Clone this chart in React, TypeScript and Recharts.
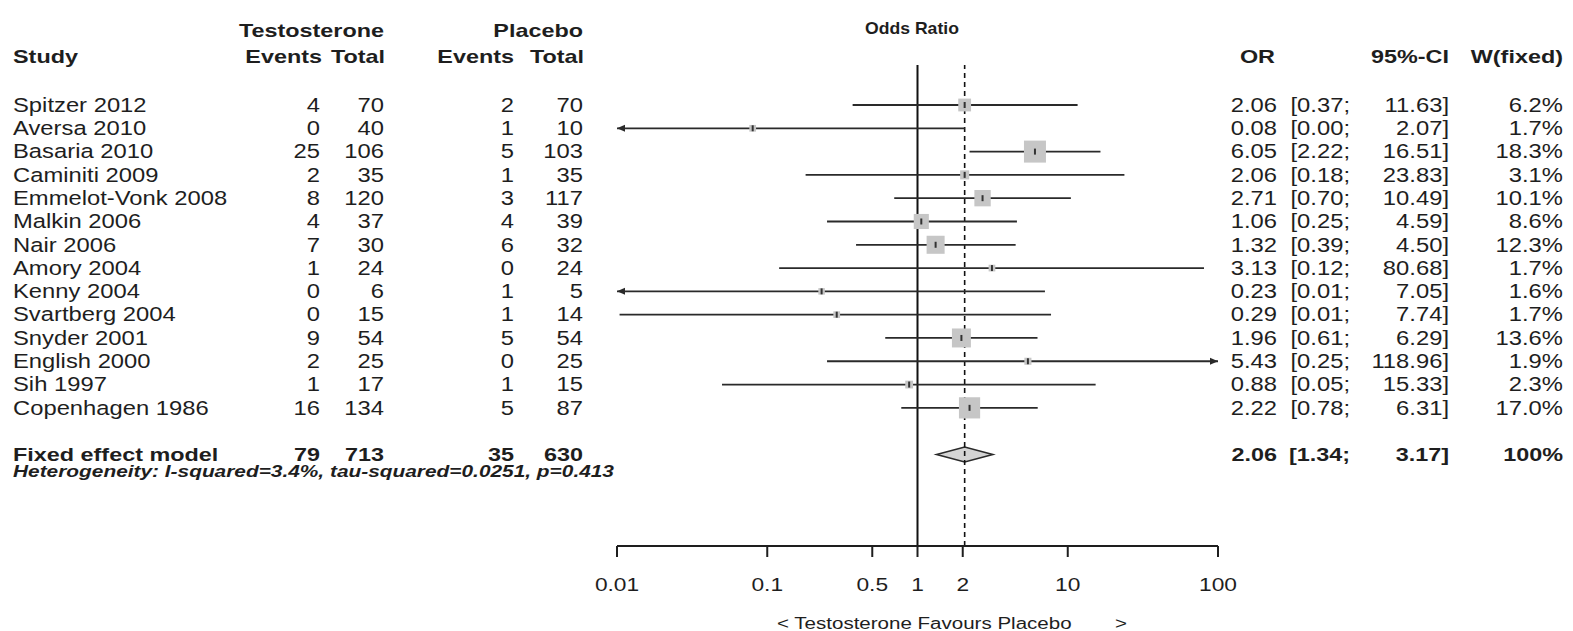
import React from "react";
import {
  ComposedChart,
  ReferenceArea,
  ReferenceLine,
  Scatter,
  XAxis,
  YAxis,
} from "recharts";

const studies = [
  "Spitzer 2012",
  "Aversa 2010",
  "Basaria 2010",
  "Caminiti 2009",
  "Emmelot-Vonk 2008",
  "Malkin 2006",
  "Nair 2006",
  "Amory 2004",
  "Kenny 2004",
  "Svartberg 2004",
  "Snyder 2001",
  "English 2000",
  "Sih 1997",
  "Copenhagen 1986",
];
const tEvents = [4, 0, 25, 2, 8, 4, 7, 1, 0, 0, 9, 2, 1, 16];
const tTotal = [70, 40, 106, 35, 120, 37, 30, 24, 6, 15, 54, 25, 17, 134];
const pEvents = [2, 1, 5, 1, 3, 4, 6, 0, 1, 1, 5, 0, 1, 5];
const pTotal = [70, 10, 103, 35, 117, 39, 32, 24, 5, 14, 54, 25, 15, 87];
const oddsRatio = [2.06, 0.08, 6.05, 2.06, 2.71, 1.06, 1.32, 3.13, 0.23, 0.29, 1.96, 5.43, 0.88, 2.22];
const ciLower = [0.37, 0.003, 2.22, 0.18, 0.7, 0.25, 0.39, 0.12, 0.009, 0.0104, 0.61, 0.25, 0.05, 0.78];
const ciUpper = [11.63, 2.07, 16.51, 23.83, 10.49, 4.59, 4.5, 80.68, 7.05, 7.74, 6.29, 118.96, 15.33, 6.31];
const weights = [6.2, 1.7, 18.3, 3.1, 10.1, 8.6, 12.3, 1.7, 1.6, 1.7, 13.6, 1.9, 2.3, 17.0];

const fixedLabel = "Fixed effect model";
const fixedCounts = [79, 713, 35, 630];
const fixedOr = 2.06;
const fixedLower = 1.34;
const fixedUpper = 3.17;
const heterogeneity = "Heterogeneity: I-squared=3.4%, tau-squared=0.0251, p=0.413";

const orTicks = [0.01, 0.1, 0.5, 1, 2, 10, 100];
const X_MIN = 0.01;
const X_MAX = 100;
const FIXED_ROW = 15;

const rows = studies.map((name, i) => ({
  row: i,
  name,
  or: oddsRatio[i],
  lo: ciLower[i],
  hi: ciUpper[i],
  w: weights[i],
}));

// column anchors (px, whole page)
const COL = {
  study: 13,
  tEv: 320,
  tTot: 384,
  pEv: 514,
  pTot: 583,
  or: 1277,
  ciLo: 1350,
  ciHi: 1449,
  w: 1563,
};

const INK = "#1e1e1e";
const BODY = 19.5;
const BOLD = 18;

// the source text is stretched horizontally, so every label gets a scaleX
function Txt({
  x,
  y,
  anchor = "start",
  size = BODY,
  bold = false,
  italic = false,
  sx,
  children,
}: {
  x: number;
  y: number;
  anchor?: "start" | "middle" | "end";
  size?: number;
  bold?: boolean;
  italic?: boolean;
  sx?: number;
  children: React.ReactNode;
}) {
  const k = sx ?? (bold ? 1.3 : 1.22);
  return (
    <text
      transform={`translate(${x} ${y}) scale(${k} 1)`}
      textAnchor={anchor}
      dominantBaseline="central"
      fontFamily="'Liberation Sans', Arial, sans-serif"
      fontSize={size}
      fontWeight={bold ? 700 : 400}
      fontStyle={italic ? "italic" : "normal"}
      fill={INK}
    >
      {children}
    </text>
  );
}

function RowTick(props: any) {
  const { y, payload } = props;
  const v = payload.value;
  if (v === FIXED_ROW) {
    return (
      <g>
        <Txt x={COL.study} y={y} size={BOLD} bold>{fixedLabel}</Txt>
        <Txt x={COL.tEv} y={y} anchor="end" size={BOLD} bold>{fixedCounts[0]}</Txt>
        <Txt x={COL.tTot} y={y} anchor="end" size={BOLD} bold>{fixedCounts[1]}</Txt>
        <Txt x={COL.pEv} y={y} anchor="end" size={BOLD} bold>{fixedCounts[2]}</Txt>
        <Txt x={COL.pTot} y={y} anchor="end" size={BOLD} bold>{fixedCounts[3]}</Txt>
        <Txt x={COL.or} y={y} anchor="end" size={BOLD} bold>{fixedOr.toFixed(2)}</Txt>
        <Txt x={COL.ciLo} y={y} anchor="end" size={BOLD} bold>{`[${fixedLower.toFixed(2)};`}</Txt>
        <Txt x={COL.ciHi} y={y} anchor="end" size={BOLD} bold>{`${fixedUpper.toFixed(2)}]`}</Txt>
        <Txt x={COL.w} y={y} anchor="end" size={BOLD} bold>100%</Txt>
        <Txt x={COL.study} y={y + 17} size={16.5} sx={1.265} bold italic>{heterogeneity}</Txt>
      </g>
    );
  }
  const r = rows[v];
  if (!r) return null;
  return (
    <g>
      <Txt x={COL.study} y={y}>{r.name}</Txt>
      <Txt x={COL.tEv} y={y} anchor="end">{tEvents[v]}</Txt>
      <Txt x={COL.tTot} y={y} anchor="end">{tTotal[v]}</Txt>
      <Txt x={COL.pEv} y={y} anchor="end">{pEvents[v]}</Txt>
      <Txt x={COL.pTot} y={y} anchor="end">{pTotal[v]}</Txt>
      <Txt x={COL.or} y={y} anchor="end">{r.or.toFixed(2)}</Txt>
      <Txt x={COL.ciLo} y={y} anchor="end">{`[${r.lo.toFixed(2)};`}</Txt>
      <Txt x={COL.ciHi} y={y} anchor="end">{`${r.hi.toFixed(2)}]`}</Txt>
      <Txt x={COL.w} y={y} anchor="end">{`${r.w.toFixed(1)}%`}</Txt>
    </g>
  );
}

function Headers() {
  return (
    <g>
      <Txt x={COL.tTot} y={31} anchor="end" size={BOLD} bold>Testosterone</Txt>
      <Txt x={COL.pTot} y={31} anchor="end" size={BOLD} bold>Placebo</Txt>
      <Txt x={912} y={29} anchor="middle" size={16} sx={1.1} bold>Odds Ratio</Txt>
      <Txt x={COL.study} y={57} size={BOLD} bold>Study</Txt>
      <Txt x={COL.tEv + 2} y={57} anchor="end" size={BOLD} bold>Events</Txt>
      <Txt x={COL.tTot + 1} y={57} anchor="end" size={BOLD} bold>Total</Txt>
      <Txt x={COL.pEv} y={57} anchor="end" size={BOLD} bold>Events</Txt>
      <Txt x={COL.pTot + 1} y={57} anchor="end" size={BOLD} bold>Total</Txt>
      <Txt x={COL.or - 2} y={57} anchor="end" size={BOLD} bold>OR</Txt>
      <Txt x={COL.ciHi} y={57} anchor="end" size={BOLD} bold>95%-CI</Txt>
      <Txt x={COL.w} y={57} anchor="end" size={BOLD} bold>W(fixed)</Txt>
    </g>
  );
}

function XTick(props: any) {
  const { x, y, payload } = props;
  return (
    <Txt x={x} y={y + 26} anchor="middle" size={17.5} sx={1.3}>
      {String(payload.value)}
    </Txt>
  );
}

function XTitle() {
  return (
    <g>
      <Txt x={777} y={623} size={15.8} sx={1.3}>{"< Testosterone Favours Placebo"}</Txt>
      <Txt x={1121} y={623} anchor="middle" size={15.8} sx={1.3}>{">"}</Txt>
    </g>
  );
}

function SquareMark(props: any) {
  const { cx, cy, payload } = props;
  const s = 22 * Math.sqrt(payload.w / 18.3);
  return (
    <g>
      <rect x={cx - s / 2} y={cy - s / 2} width={s} height={s} fill="#c6c6c6" />
      <rect x={cx - 1} y={cy - 3} width={2} height={6} fill="#333" />
    </g>
  );
}

function CiLine(props: any) {
  const { x1, y1, x2, y2, arrowL, arrowR } = props;
  return (
    <g>
      <line x1={x1} y1={y1} x2={x2} y2={y2} stroke="#2a2a2a" strokeWidth={1.8} />
      {arrowL && (
        <polygon points={`${x1},${y1} ${x1 + 8},${y1 - 3.5} ${x1 + 8},${y1 + 3.5}`} fill="#2a2a2a" />
      )}
      {arrowR && (
        <polygon points={`${x2},${y2} ${x2 - 8},${y2 - 3.5} ${x2 - 8},${y2 + 3.5}`} fill="#2a2a2a" />
      )}
    </g>
  );
}

function Diamond(props: any) {
  const { x, y, width, height } = props;
  const left = Math.min(x, x + width);
  const right = Math.max(x, x + width);
  const top = Math.min(y, y + height);
  const bottom = Math.max(y, y + height);
  const mid = (top + bottom) / 2;
  const cx = (left + right) / 2;
  return (
    <polygon
      points={`${left},${mid} ${cx},${top} ${right},${mid} ${cx},${bottom}`}
      fill="#d4d4d4"
      stroke="#2a2a2a"
      strokeWidth={1.6}
    />
  );
}

export default function App() {
  return (
    <div style={{ position: "absolute", left: 0, top: 0, width: 1573, height: 631, background: "#fff" }}>
      <ComposedChart
        width={1573}
        height={631}
        margin={{ top: 65, right: 355, bottom: 0, left: 0 }}
      >
        <XAxis
          dataKey="or"
          type="number"
          scale="log"
          domain={[X_MIN, X_MAX]}
          allowDataOverflow
          ticks={orTicks}
          interval={0}
          height={85}
          tickSize={11}
          axisLine={{ stroke: INK, strokeWidth: 2 }}
          tickLine={{ stroke: INK, strokeWidth: 2 }}
          tick={(p: any) => <XTick {...p} />}
          label={{ content: () => <XTitle /> }}
        />
        <YAxis
          yAxisId="rows"
          dataKey="row"
          type="number"
          domain={[-1.717, 18.93]}
          reversed
          allowDataOverflow
          ticks={[...rows.map((r) => r.row), FIXED_ROW]}
          interval={0}
          width={617}
          axisLine={false}
          tickLine={false}
          tick={(p: any) => <RowTick {...p} />}
          label={{ content: () => <Headers /> }}
        />
        <Scatter
          yAxisId="rows"
          data={rows}
          dataKey="row"
          shape={(p: any) => <SquareMark {...p} />}
          isAnimationActive={false}
        />
        <ReferenceLine yAxisId="rows" x={1} stroke="#111" strokeWidth={2} ifOverflow="visible" />
        <ReferenceLine
          yAxisId="rows"
          x={fixedOr}
          stroke="#111"
          strokeWidth={1.6}
          strokeDasharray="5 4"
          ifOverflow="visible"
        />
        {rows.map((r) => {
          const lo = Math.max(r.lo, X_MIN);
          const hi = Math.min(r.hi, X_MAX);
          const arrowL = r.lo < X_MIN;
          const arrowR = r.hi > X_MAX;
          return (
            <ReferenceLine
              key={r.name}
              yAxisId="rows"
              segment={[
                { x: lo, y: r.row },
                { x: hi, y: r.row },
              ]}
              ifOverflow="visible"
              shape={(p: any) => <CiLine {...p} arrowL={arrowL} arrowR={arrowR} />}
            />
          );
        })}
        <ReferenceArea
          yAxisId="rows"
          x1={fixedLower}
          x2={fixedUpper}
          y1={FIXED_ROW - 0.32}
          y2={FIXED_ROW + 0.32}
          ifOverflow="visible"
          shape={(p: any) => <Diamond {...p} />}
        />
      </ComposedChart>
    </div>
  );
}
